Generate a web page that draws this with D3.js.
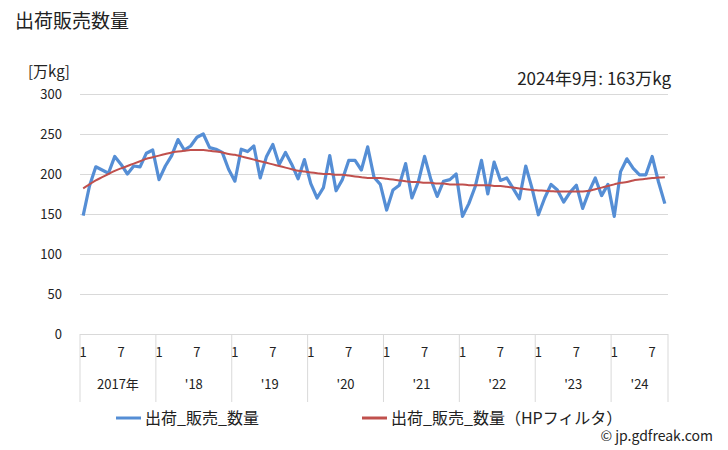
<!DOCTYPE html>
<html><head><meta charset="utf-8">
<script src="https://cdn.jsdelivr.net/npm/d3@7"></script>
<style>body{margin:0;background:#fff}svg{display:block;font-family:"Noto Sans CJK JP","Noto Sans",sans-serif}</style>
</head><body><svg id="c" width="728" height="450"></svg>
<script>
const years = ["2017年","'18","'19","'20","'21","'22","'23","'24"];
const monthsPerYear = [12,12,12,12,12,12,12,9];
const yTicks = [0,50,100,150,200,250,300];
const monthTicks = [1,7];
const sales = [
148,185,209,205,201,222,212,200,210,209,226,230,
193,210,223,243,230,235,246,250,233,231,227,206,
191,231,228,235,195,222,237,212,227,212,194,218,
188,170,183,223,179,193,217,217,205,234,196,187,
155,180,186,213,170,190,222,193,172,191,193,200,
147,163,184,217,175,215,192,195,182,169,210,182,
149,170,187,180,165,177,186,157,178,195,173,187,
147,203,219,207,199,199,222,190,163];
const hpTrend = [
182,187,192,196,200,204,207,210,213,216,219,221,
223,225,227,228,229,230,230,230,229,228,227,225,
224,222,220,218,216,214,212,210,208,206,204,203,
202,201,200,200,199,199,198,197,196,195,195,195,
194,193,192,191,190,190,189,189,188,188,187,187,
187,186,186,186,186,185,185,184,183,182,181,180,
179.5,179,178.5,178,178,178,178,178,179,181,183,185,
187,189,190,192,193,194,195,195.5,196];
const seriesNames = ["出荷_販売_数量","出荷_販売_数量（HPフィルタ）"];
const colors = ["#558ED5","#C0504D"];

const svg = d3.select("#c");
const L=80,R=668,T=94,B=334;
const idx = d3.range(sales.length);
const x = d3.scaleBand().domain(idx).range([L,R]);
const y = d3.scaleLinear().domain([0,300]).range([B,T]);
const cx = i => x(i)+x.bandwidth()/2;

// title
svg.append("text").attr("x",15).attr("y",28).attr("font-size",19).attr("fill","#222").text("出荷販売数量");
svg.append("text").attr("x",28).attr("y",77).attr("font-size",15).attr("fill","#222").text("[万kg]");
svg.append("text").attr("x",671).attr("y",85).attr("text-anchor","end").attr("font-size",17).attr("fill","#222")
  .text("2024年9月: " + sales[sales.length-1] + "万kg");

// grid
const yAxis = d3.axisLeft(y).tickValues(yTicks).tickSize(-(R-L)).tickPadding(18);
const gy = svg.append("g").attr("transform",`translate(${L},0)`).call(yAxis);
gy.select(".domain").remove();
gy.selectAll(".tick line").attr("stroke","#d9d9d9");
gy.selectAll(".tick text").attr("font-size",13).attr("fill","#222").attr("font-family","Noto Sans CJK JP");

// x axis: year separators
let starts=[0]; monthsPerYear.forEach((m,i)=>starts.push(starts[i]+m));
const sepX = starts.map(s => s<sales.length ? x(s) : R);
svg.append("g").selectAll("line").data(sepX).join("line")
  .attr("x1",d=>d).attr("x2",d=>d).attr("y1",B).attr("y2",402).attr("stroke","#d9d9d9");

// month tick labels
const monthIdx = idx.filter(i => monthTicks.includes(i%12+1));
svg.append("g").selectAll("text").data(monthIdx).join("text")
  .attr("x",i=>cx(i)).attr("y",357).attr("text-anchor","middle").attr("font-size",13).attr("fill","#222")
  .text(i=>i%12+1);
// year labels
svg.append("g").selectAll("text").data(years).join("text")
  .attr("x",(d,i)=>(sepX[i]+sepX[i+1])/2).attr("y",389).attr("text-anchor","middle").attr("font-size",13).attr("fill","#222")
  .text(d=>d);

// lines
const line = d3.line().x((d,i)=>cx(i)).y(d=>y(d));
svg.append("path").datum(sales).attr("d",line).attr("fill","none").attr("stroke",colors[0]).attr("stroke-width",3.2).attr("stroke-linejoin","round");
svg.append("path").datum(hpTrend).attr("d",line.curve(d3.curveMonotoneX)).attr("fill","none").attr("stroke",colors[1]).attr("stroke-width",2);

// legend
const leg = [{x:116,t:seriesNames[0],c:colors[0]},{x:362,t:seriesNames[1],c:colors[1]}];
leg.forEach(l=>{
  svg.append("line").attr("x1",l.x).attr("x2",l.x+25).attr("y1",418).attr("y2",418).attr("stroke",l.c).attr("stroke-width",3);
  svg.append("text").attr("x",l.x+29).attr("y",424).attr("font-size",16).attr("fill","#222").text(l.t);
});
svg.append("text").attr("x",713).attr("y",441).attr("text-anchor","end").attr("font-size",14).attr("fill","#222").text("© jp.gdfreak.com");
</script></body></html>
